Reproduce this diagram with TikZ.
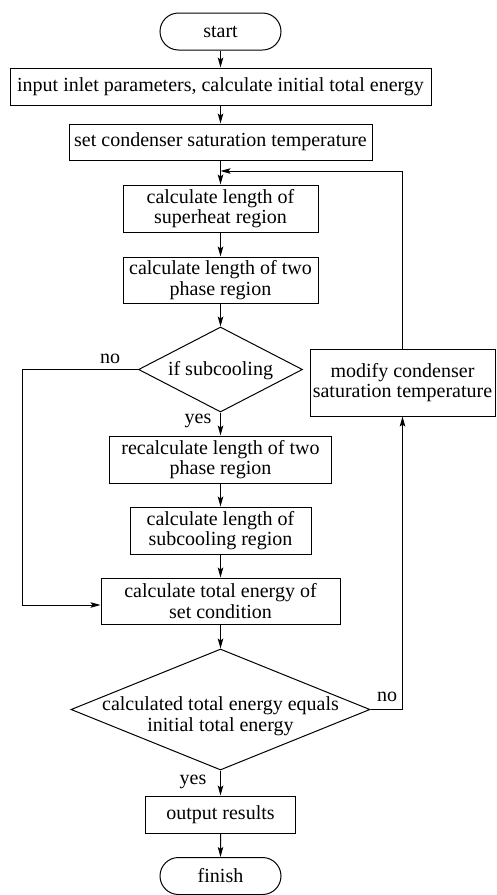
\documentclass[tikz,border=0pt]{standalone}
\usepackage{fontspec}
\setmainfont{Liberation Serif}
\usetikzlibrary{shapes.geometric,shapes.misc,arrows.meta}
\begin{document}
\begin{tikzpicture}[x=1pt,y=-1pt,
  every node/.style={font=\fontsize{20}{20.5}\selectfont, inner sep=0pt, align=center},
  box/.style={draw, rectangle, line width=1pt},
  term/.style={draw, rounded rectangle, line width=1pt, minimum width=121pt, minimum height=37pt},
  dia/.style={draw, diamond, line width=1pt},
  arr/.style={line width=1pt, -{Stealth[length=10pt,width=5.5pt,inset=2pt]}},
  ln/.style={line width=1pt}]
\useasboundingbox (0,0) rectangle (496,895);

\node[term] (start) at (220.5,31.5) {start};
\node[box, minimum width=421pt, minimum height=37pt] (b1) at (220.5,86.5) {input inlet parameters, calculate initial total energy};
\node[box, minimum width=303pt, minimum height=36pt] (b2) at (220.5,142) {set condenser saturation temperature};
\node[box, minimum width=195pt, minimum height=47pt] (b3) at (220.5,208.5) {calculate length of\\superheat region};
\node[box, minimum width=195pt, minimum height=46pt] (b4) at (220.5,280) {calculate length of two\\phase region};
\node[dia, minimum width=164pt, minimum height=85pt] (d1) at (220.5,369.5) {};
\node (d1t) at (220.5,371) {if subcooling};
\node[box, minimum width=185pt, minimum height=67pt] (mod) at (402.5,382.5) {modify condenser\\saturation temperature};
\node[box, minimum width=222pt, minimum height=47pt] (b5) at (220.5,459.5) {recalculate length of two\\phase region};
\node[box, minimum width=181pt, minimum height=47pt] (b6) at (220.5,530.5) {calculate length of\\subcooling region};
\node[box, minimum width=239pt, minimum height=46pt] (b7) at (220.5,601) {calculate total energy of\\set condition};
\node[dia, minimum width=299pt, minimum height=121pt] (d2) at (220.5,709.5) {};
\node (d2t) at (220.5,716) {calculated total energy equals\\initial total energy};
\node[box, minimum width=150pt, minimum height=37pt] (b8) at (220.5,814.5) {output results};
\node[term] (finish) at (220.5,876) {finish};

\coordinate (j) at (220.5,171);
\coordinate (c1) at (22,605);

\draw[arr] (start) -- (b1);
\draw[arr] (b1) -- (b2);
\draw[arr] (b2) -- (b3);
\draw[arr] (b3) -- (b4);
\draw[arr] (b4) -- (d1);
\draw[arr] (d1) -- (b5);
\draw[arr] (b5) -- (b6);
\draw[arr] (b6) -- (b7);
\draw[arr] (b7) -- (d2);
\draw[arr] (d2) -- (b8);
\draw[arr] (b8) -- (finish);
\draw[arr] (d1.west) -| (c1) -- (b7.west |- c1);
\draw[arr] (d2.east) -| (mod.south);
\draw[arr] (mod.north) |- (j);

\node (no1) at (110,359) {no};
\node (yes1) at (198,421) {yes};
\node (no2) at (387,697) {no};
\node (yes2) at (193,782) {yes};
\end{tikzpicture}
\end{document}
